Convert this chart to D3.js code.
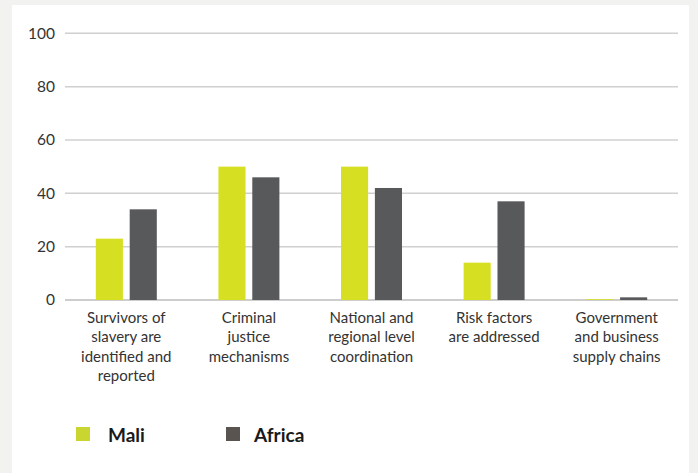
<!DOCTYPE html>
<html><head><meta charset="utf-8">
<script src="https://cdn.jsdelivr.net/npm/d3@7"></script>
<style>
html,body{margin:0;padding:0;background:#f2f2f0;}
svg{display:block;font-family:"Source Sans Pro","Lato","Open Sans",sans-serif;}
</style></head>
<body>
<svg id="chart" width="698" height="473"></svg>
<script>
const categories = [
  ["Survivors of","slavery are","identified and","reported"],
  ["Criminal","justice","mechanisms"],
  ["National and","regional level","coordination"],
  ["Risk factors","are addressed"],
  ["Government","and business","supply chains"]
];
const seriesNames = ["Mali","Africa"];
const maliValues = [23, 50, 50, 14, 0];
const africaValues = [34, 46, 42, 37, 1];
const yTicks = [0, 20, 40, 60, 80, 100];
const colors = {Mali:"#d7df23", Africa:"#58595b"};
const legendColors = {Mali:"#c9d62f", Africa:"#595450"};

(function(){
const svg = d3.select("#chart");
svg.append("rect").attr("x",12).attr("y",5).attr("width",677).attr("height",468).attr("fill","#ffffff");

const mLeft = 65, mRight = 678, mTop = 33.3, mBottom = 300;
const idx = categories.map((d,i)=>i);
const x = d3.scaleBand().domain(idx).range([mLeft,mRight]).paddingInner(0).paddingOuter(0);
const y = d3.scaleLinear().domain([0,100]).range([mBottom, mTop]);

// gridlines
svg.append("g").selectAll("line").data(yTicks).join("line")
  .attr("x1",mLeft).attr("x2",mRight)
  .attr("y1",d=>y(d)).attr("y2",d=>y(d))
  .attr("stroke",d=>d===0?"#bdbdbd":"#d0d0d0").attr("stroke-width",1.5);

// y axis labels
const yAxis = d3.axisLeft(y).tickValues(yTicks).tickSize(0).tickPadding(0);
const ga = svg.append("g").attr("transform",`translate(55,0)`).call(yAxis);
ga.select(".domain").remove();
ga.selectAll("text").attr("font-size",15.5).attr("fill","#333").attr("font-family",'"Source Sans Pro","Lato","Open Sans",sans-serif');

// bars
const x1 = d3.scaleBand().domain(seriesNames).range([-30.5,30.5]).paddingInner(0.2);
const data = idx.map(i=>({i, Mali:maliValues[i], Africa:africaValues[i]}));
const groups = svg.append("g").selectAll("g").data(data).join("g")
  .attr("transform",d=>`translate(${x(d.i)+x.bandwidth()/2},0)`);
groups.selectAll("rect").data(d=>seriesNames.map(s=>({s,v:d[s]}))).join("rect")
  .attr("x",d=>x1(d.s)).attr("width",x1.bandwidth())
  .attr("y",d=>Math.min(y(d.v), mBottom-0.8)).attr("height",d=>Math.max(mBottom-y(d.v),0.8))
  .attr("fill",d=>colors[d.s]);

// category labels
const lab = svg.append("g").selectAll("text").data(idx).join("text")
  .attr("x",i=>x(i)+x.bandwidth()/2).attr("y",323)
  .attr("text-anchor","middle").attr("font-size",15).attr("fill","#333");
lab.selectAll("tspan").data(i=>categories[i].map(t=>({t,i}))).join("tspan")
  .attr("x",d=>x(d.i)+x.bandwidth()/2).attr("dy",(d,k)=>k===0?0:19.4).text(d=>d.t);

// legend
const legX = [76, 226];
const leg = svg.append("g").selectAll("g").data(seriesNames).join("g")
  .attr("transform",(d,k)=>`translate(${legX[k]},427)`);
leg.append("rect").attr("width",14).attr("height",14).attr("fill",d=>legendColors[d]);
leg.append("text").attr("x",d=>d==="Mali"?32:28).attr("y",14.5).attr("font-size",19).attr("font-weight","bold")
  .attr("fill","#1a1a1a").text(d=>d);
})();
</script>
</body></html>
